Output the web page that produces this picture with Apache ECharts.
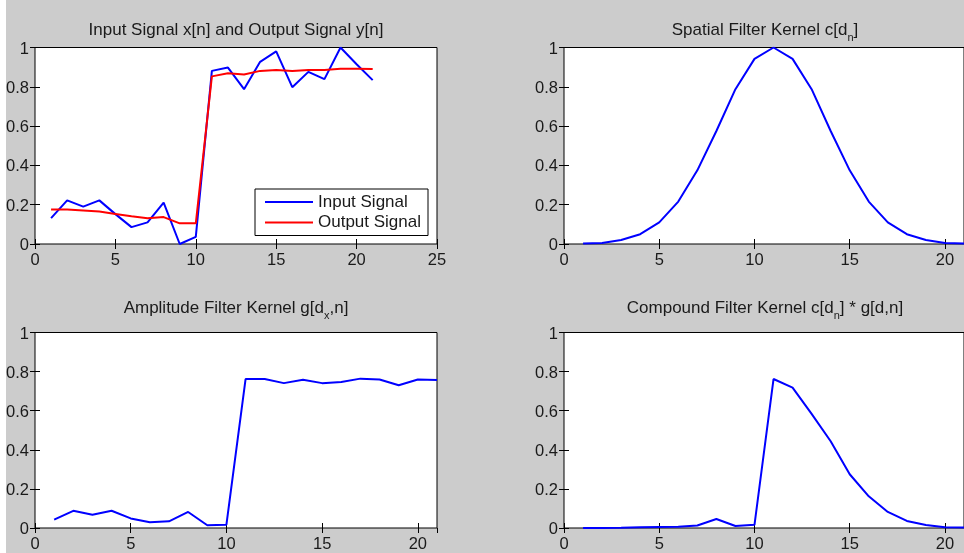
<!DOCTYPE html>
<html>
<head>
<meta charset="utf-8">
<script src="https://cdn.jsdelivr.net/npm/echarts@6/dist/echarts.min.js"></script>
<style>
html, body { margin: 0; padding: 0; background: #fff; }
#main { width: 964px; height: 553px; }
</style>
</head>
<body>
<div id="main"></div>
<script>
// sample index n
const samples = [1, 2, 3, 4, 5, 6, 7, 8, 9, 10, 11, 12, 13, 14, 15, 16, 17, 18, 19, 20, 21];

// input / output signal (top left)
const inputSignal = [0.132, 0.222, 0.19, 0.222, 0.152, 0.086, 0.11, 0.21, 0.0, 0.036, 0.881,
    0.898, 0.788, 0.927, 0.98, 0.798, 0.876, 0.839, 1.0, 0.915, 0.834];
const outputSignal = [0.176, 0.175, 0.171, 0.165, 0.153, 0.141, 0.131, 0.137, 0.105, 0.105, 0.853,
    0.869, 0.863, 0.881, 0.885, 0.881, 0.885, 0.886, 0.892, 0.892, 0.89];

// spatial kernel c[d_n] (top right)
const spatialKernel = [0.002, 0.005, 0.02, 0.05, 0.11, 0.216, 0.375, 0.575, 0.788, 0.942, 1.0,
    0.942, 0.788, 0.575, 0.375, 0.216, 0.11, 0.05, 0.02, 0.005, 0.002];

// amplitude kernel g[d_x,n] (bottom left)
const amplitudeKernel = [0.043, 0.088, 0.068, 0.088, 0.049, 0.029, 0.034, 0.082, 0.014, 0.017, 0.762,
    0.762, 0.741, 0.758, 0.741, 0.747, 0.764, 0.76, 0.73, 0.76, 0.757];

// compound kernel (bottom right)
const compoundKernel = [0.0, 0.0005, 0.001, 0.004, 0.005, 0.006, 0.013, 0.046, 0.01, 0.016, 0.762,
    0.718, 0.584, 0.444, 0.275, 0.162, 0.082, 0.036, 0.015, 0.004, 0.002];

const xMaxes = [25, 21, 21, 21];

const titles = [
    '{t|Input Signal x[n] and Output Signal y[n]}',
    '{t|Spatial Filter Kernel c[d}{s|n}{t|]}',
    '{t|Amplitude Filter Kernel g[d}{s|x}{t|,n]}',
    '{t|Compound Filter Kernel c[d}{s|n}{t|] * g[d,n]}'
];

const FONT = '"Liberation Sans", Arial, Helvetica, sans-serif';
const TXT = '#1a1a1a';

const grids = [
    { left: 35, top: 47.5, width: 402, height: 196.5 },
    { left: 564, top: 47.5, width: 402, height: 196.5 },
    { left: 35, top: 332.5, width: 402, height: 196 },
    { left: 564, top: 332.5, width: 402, height: 196 }
];
grids.forEach(g => {
    g.show = true;
    g.backgroundColor = '#fff';
    g.borderColor = '#000';
    g.borderWidth = 1;
});

let xAxis = [], yAxis = [];
grids.forEach((g, i) => {
    let max = xMaxes[i];
    // bottom axis with labels
    xAxis.push({
        type: 'value', gridIndex: i, min: 0, max: max, interval: 5,
        position: 'bottom',
        axisLine: { show: false },
        axisTick: { show: true, inside: true, length: 5, lineStyle: { color: '#000' } },
        axisLabel: {
            show: true, margin: 8, fontSize: 16.5, fontFamily: FONT, color: TXT,
            showMaxLabel: max % 5 === 0
        },
        splitLine: { show: false }
    });
    // top mirror ticks
    xAxis.push({
        type: 'value', gridIndex: i, min: 0, max: max, interval: 5,
        position: 'top',
        axisLine: { show: false },
        axisTick: { show: true, inside: true, length: 5, lineStyle: { color: '#000' } },
        axisLabel: { show: false },
        splitLine: { show: false }
    });
    yAxis.push({
        type: 'value', gridIndex: i, min: 0, max: 1, interval: 0.2,
        position: 'left',
        axisLine: { show: false },
        axisTick: { show: true, inside: true, length: 5, lineStyle: { color: '#000' } },
        axisLabel: {
            show: true, margin: 6, fontSize: 16.5, fontFamily: FONT, color: TXT,
            formatter: '{v|{value}}',
            rich: { v: { fontSize: 16.5, fontFamily: FONT, color: TXT, padding: [3, 0, 0, 0] } }
        },
        splitLine: { show: false }
    });
    yAxis.push({
        type: 'value', gridIndex: i, min: 0, max: 1, interval: 0.2,
        position: 'right',
        axisLine: { show: false },
        axisTick: { show: true, inside: true, length: 5, lineStyle: { color: '#000' } },
        axisLabel: { show: false },
        splitLine: { show: false }
    });
});

const titleX = [236, 765, 236, 765];
const titleY = [15, 15, 293, 293];
const title = titles.map((t, i) => ({
    text: t,
    left: titleX[i],
    top: titleY[i],
    textAlign: 'center',
    padding: 0,
    textStyle: {
        fontSize: 17, fontWeight: 'normal', fontFamily: FONT, color: TXT,
        rich: {
            t: { fontSize: 17, fontFamily: FONT, color: TXT, lineHeight: 30 },
            s: { fontSize: 11, fontFamily: FONT, color: TXT, padding: [16, 0, 0, 0] }
        }
    }
}));

function pairs(ys) {
    return samples.map((n, k) => [n, ys[k]]);
}

function lineSeries(name, ys, gi, color) {
    return {
        name: name,
        type: 'line',
        xAxisIndex: gi * 2,
        yAxisIndex: gi * 2,
        data: pairs(ys),
        symbol: 'none',
        showSymbol: false,
        lineStyle: { color: color, width: 2 },
        itemStyle: { color: color },
        silent: true
    };
}

const series = [
    lineSeries('Input Signal', inputSignal, 0, '#0000ff'),
    lineSeries('Output Signal', outputSignal, 0, '#ff0000'),
    lineSeries('c', spatialKernel, 1, '#0000ff'),
    lineSeries('g', amplitudeKernel, 2, '#0000ff'),
    lineSeries('cg', compoundKernel, 3, '#0000ff')
];

let option = {
    animation: false,
    backgroundColor: '#cccccc',
    graphic: {
        elements: [{
            type: 'rect', left: 0, top: 0, z: -10, silent: true,
            shape: { width: 6, height: 553 },
            style: { fill: '#ffffff' }
        }]
    },
    title: title,
    legend: {
        data: ['Input Signal', 'Output Signal'],
        orient: 'vertical',
        left: 255,
        top: 189,
        icon: 'rect',
        itemWidth: 48,
        itemHeight: 2,
        itemGap: 3.5,
        padding: [4.5, 7, 4.5, 10],
        backgroundColor: '#fff',
        borderColor: '#000',
        borderWidth: 1,
        borderRadius: 0,
        selectedMode: false,
        textStyle: { fontSize: 17, fontFamily: FONT, color: TXT }
    },
    grid: grids,
    xAxis: xAxis,
    yAxis: yAxis,
    series: series
};

let myChart = echarts.init(document.getElementById('main'));
myChart.setOption(option);
</script>
</body>
</html>
